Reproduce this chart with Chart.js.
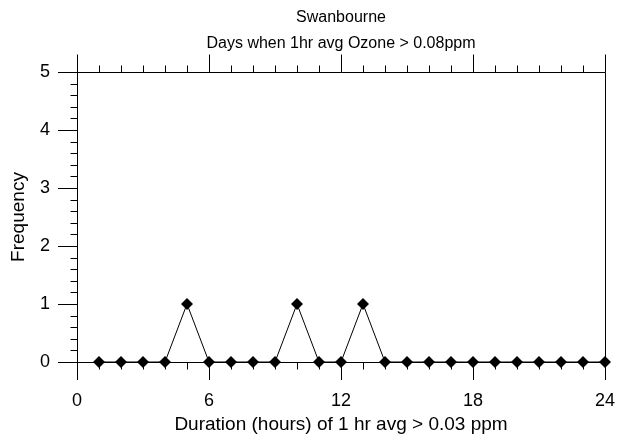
<!DOCTYPE html>
<html>
<head>
<meta charset="utf-8">
<script src="https://cdn.jsdelivr.net/npm/chart.js@4"></script>
<style>
    body { margin: 0; background: #fff; }
    #chart { display: block; }
</style>
</head>
<body>
<canvas id="chart" width="617" height="441"></canvas>
<script>
const titleLines = ['Swanbourne', 'Days when 1hr avg Ozone > 0.08ppm'];
const xTitle = 'Duration (hours) of 1 hr avg > 0.03 ppm';
const yTitle = 'Frequency';

// Duration in hours and how many days had that duration
const hours = [1, 2, 3, 4, 5, 6, 7, 8, 9, 10, 11, 12, 13, 14, 15, 16, 17, 18, 19, 20, 21, 22, 23, 24];
const frequency = [0, 0, 0, 0, 1, 0, 0, 0, 0, 1, 0, 0, 1, 0, 0, 0, 0, 0, 0, 0, 0, 0, 0, 0];

const xMin = 0, xMax = 24, xStep = 6, xMinorStep = 1;
const yMin = 0, yMax = 5, yStep = 1, yMinorStep = 0.2;

Chart.defaults.font.family = '"Liberation Sans", Arial, sans-serif';
Chart.defaults.color = '#000';

// Box frame, top axis ticks and minor ticks (drawn under the markers)
const frameTicks = {
    id: 'frameTicks',
    beforeDatasetsDraw(chart) {
        const { ctx, chartArea: a, scales: { x, y } } = chart;
        const px = v => Math.round(v) + 0.5;
        const top = px(a.top), bottom = px(a.bottom), left = px(a.left), right = px(a.right);
        ctx.save();
        ctx.strokeStyle = '#000';
        ctx.lineWidth = 1;
        ctx.beginPath();
        // top border and right border
        ctx.moveTo(left, top); ctx.lineTo(right, top);
        ctx.moveTo(right, top); ctx.lineTo(right, bottom);
        // x ticks: every hour, long ones on major steps
        for (let v = xMin; v <= xMax; v += xMinorStep) {
            const xp = px(x.getPixelForValue(v));
            const major = v % xStep === 0;
            ctx.moveTo(xp, top);
            ctx.lineTo(xp, top - (major ? 18 : 7));
            if (!major) {
                ctx.moveTo(xp, bottom);
                ctx.lineTo(xp, bottom + 7);
            }
        }
        // y minor ticks
        for (let v = yMin; v <= yMax + 1e-9; v += yMinorStep) {
            const r = Math.round(v * 10) / 10;
            if (Math.abs(r - Math.round(r)) < 1e-6) continue;
            const yp = px(y.getPixelForValue(r));
            ctx.moveTo(left, yp);
            ctx.lineTo(left - 7, yp);
        }
        ctx.stroke();
        ctx.restore();
    },
    afterDraw(chart) {
        const { ctx, chartArea: a } = chart;
        const cx = (a.left + a.right) / 2;
        ctx.save();
        ctx.fillStyle = '#000';
        ctx.font = '16px "Liberation Sans", Arial, sans-serif';
        ctx.textAlign = 'center';
        ctx.textBaseline = 'middle';
        ctx.fillText(titleLines[0], cx, 18);
        ctx.fillText(titleLines[1], cx, 44);
        ctx.restore();
    }
};

new Chart(document.getElementById('chart'), {
    type: 'scatter',
    data: {
        datasets: [{
            data: hours.map((h, i) => ({ x: h, y: frequency[i] })),
            showLine: true,
            borderColor: '#000',
            borderWidth: 1,
            backgroundColor: '#000',
            pointStyle: 'rectRot',
            pointRadius: 6,
            pointBorderWidth: 0,
            clip: false
        }]
    },
    options: {
        responsive: false,
        animation: false,
        layout: { padding: { top: 72, right: 12, left: 0, bottom: 0 } },
        plugins: {
            legend: { display: false },
            tooltip: { enabled: false }
        },
        scales: {
            x: {
                type: 'linear',
                min: xMin,
                max: xMax,
                afterFit: (scale) => {
                    scale.height = 79;
                    scale.paddingLeft = 0;
                    scale.paddingRight = 0;
                },
                ticks: { stepSize: xStep, padding: 10, font: { size: 18 }, color: '#000' },
                grid: { drawOnChartArea: false, tickLength: 18, color: '#000', lineWidth: 1 },
                border: { color: '#000', width: 1 },
                title: { display: true, text: xTitle, font: { size: 19 }, color: '#000', padding: { top: 0, bottom: 5 } }
            },
            y: {
                min: yMin,
                max: yMax,
                afterFit: (scale) => {
                    scale.width = 77;
                    scale.paddingTop = 0;
                    scale.paddingBottom = 0;
                },
                ticks: { stepSize: yStep, padding: 8, font: { size: 18 }, color: '#000' },
                grid: { drawOnChartArea: false, tickLength: 19, color: '#000', lineWidth: 1 },
                border: { color: '#000', width: 1 },
                title: { display: true, text: yTitle, font: { size: 19 }, color: '#000', padding: { top: 7, bottom: 0 } }
            }
        }
    },
    plugins: [frameTicks]
});
</script>
</body>
</html>
